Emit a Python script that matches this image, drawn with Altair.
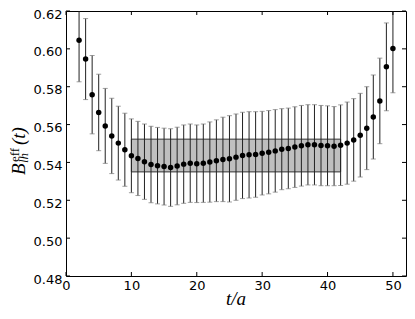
import altair as alt
import pandas as pd

t_vals = list(range(2, 51))
means = [0.6046, 0.5946, 0.5758, 0.5664, 0.5593, 0.5540, 0.5502, 0.5467, 0.5435, 0.5421,
         0.5404, 0.5389, 0.5383, 0.5378, 0.5373, 0.5381, 0.5391, 0.5396, 0.5393, 0.5396,
         0.5402, 0.5409, 0.5416, 0.5419, 0.5428, 0.5437, 0.5440, 0.5442, 0.5449, 0.5454,
         0.5461, 0.5470, 0.5474, 0.5481, 0.5488, 0.5493, 0.5493, 0.5489, 0.5488, 0.5486,
         0.5491, 0.5502, 0.5519, 0.5544, 0.5581, 0.5640, 0.5725, 0.5905, 0.6002]
errs = [0.0220, 0.0214, 0.0207, 0.0202, 0.0198, 0.0199, 0.0195, 0.0193, 0.0195, 0.0196,
        0.0199, 0.0202, 0.0202, 0.0203, 0.0205, 0.0205, 0.0207, 0.0207, 0.0205, 0.0207,
        0.0212, 0.0216, 0.0223, 0.0228, 0.0228, 0.0228, 0.0228, 0.0226, 0.0221, 0.0220,
        0.0218, 0.0214, 0.0213, 0.0213, 0.0213, 0.0212, 0.0212, 0.0212, 0.0211, 0.0209,
        0.0213, 0.0217, 0.0218, 0.0221, 0.0219, 0.0222, 0.0226, 0.0232, 0.0234]

band_t = [10, 42]
band_B = [0.5350, 0.5523]

x_ticks = [0, 10, 20, 30, 40, 50]
y_ticks = [0.48, 0.50, 0.52, 0.54, 0.56, 0.58, 0.60, 0.62]

W, H = 340, 265

df = pd.DataFrame({"t": t_vals, "B": means, "err": errs})
df["lo"] = df["B"] - df["err"]
df["hi"] = df["B"] + df["err"]

band_df = pd.DataFrame({"t": [band_t[0]], "t2": [band_t[1]], "B": [band_B[0]], "B2": [band_B[1]]})
xt_df = pd.DataFrame({"t": x_ticks})
yt_df = pd.DataFrame({"B": y_ticks})

xscale = alt.Scale(domain=[0, 52], nice=False, zero=False)
yscale = alt.Scale(domain=[0.48, 0.62], nice=False, zero=False)

xaxis = alt.Axis(values=x_ticks, grid=False, ticks=False, domain=False, title=None,
                 labelFont="DejaVu Sans", labelFontSize=13, labelColor="black",
                 labelPadding=3, labelFlush=False, labelOverlap=False)
yaxis = alt.Axis(values=y_ticks, format=".2f", grid=False, ticks=False, domain=False, title=None,
                 labelFont="DejaVu Sans", labelFontSize=13, labelColor="black",
                 labelPadding=4, labelOffset=3, labelFlush=False, labelOverlap=False)

X = alt.X("t:Q", scale=xscale, axis=xaxis)
Y = alt.Y("B:Q", scale=yscale, axis=yaxis)
Ylo = alt.Y("lo:Q", scale=yscale, axis=yaxis)
Yhi = alt.Y("hi:Q", scale=yscale, axis=yaxis)

band = alt.Chart(band_df).mark_rect(fill="#bfbfbf", stroke="#333333", strokeWidth=1).encode(
    x=X, x2="t2:Q", y=Y, y2="B2:Q")

bars = alt.Chart(df).mark_rule(color="#222222", strokeWidth=1, clip=True).encode(
    x=X, y=Ylo, y2="hi:Q")

caps_lo = alt.Chart(df).mark_tick(color="#777777", size=5, thickness=1, orient="horizontal", clip=True).encode(
    x=X, y=Ylo)
caps_hi = alt.Chart(df).mark_tick(color="#777777", size=5, thickness=1, orient="horizontal", clip=True).encode(
    x=X, y=Yhi)

points = alt.Chart(df).mark_point(filled=True, color="black", size=30, opacity=1).encode(x=X, y=Y)

tick_len = 4
xt_bot = alt.Chart(xt_df).mark_rule(color="black", strokeWidth=1).encode(
    x=X, y=alt.value(H), y2=alt.value(H - tick_len))
xt_top = alt.Chart(xt_df).mark_rule(color="black", strokeWidth=1).encode(
    x=X, y=alt.value(0), y2=alt.value(tick_len))
yt_left = alt.Chart(yt_df).mark_rule(color="black", strokeWidth=1).encode(
    y=Y, x=alt.value(0), x2=alt.value(tick_len))
yt_right = alt.Chart(yt_df).mark_rule(color="black", strokeWidth=1).encode(
    y=Y, x=alt.value(W), x2=alt.value(W - tick_len))

one = pd.DataFrame({"k": [0]})
serif = "Liberation Serif"

xtitle = alt.Chart(one).mark_text(font=serif, fontStyle="italic", fontSize=19, align="center",
                                  baseline="alphabetic", color="black").encode(
    x=alt.value(W / 2), y=alt.value(H + 29), text=alt.value("t/a"))

yB = alt.Chart(one).mark_text(font=serif, fontStyle="italic", fontSize=19, angle=270, align="left",
                              baseline="alphabetic", color="black").encode(
    x=alt.value(-41), y=alt.value(164), text=alt.value("B"))
yeff = alt.Chart(one).mark_text(font=serif, fontStyle="normal", fontSize=13, angle=270, align="left",
                                baseline="alphabetic", color="black").encode(
    x=alt.value(-47), y=alt.value(151), text=alt.value("eff"))
ylh = alt.Chart(one).mark_text(font=serif, fontStyle="italic", fontSize=13, angle=270, align="left",
                               baseline="alphabetic", color="black").encode(
    x=alt.value(-38), y=alt.value(152), text=alt.value("lh"))
yt = alt.Chart(one).mark_text(font=serif, fontStyle="italic", fontSize=19, angle=270, align="left",
                              baseline="alphabetic", color="black").encode(
    x=alt.value(-41), y=alt.value(134), text=alt.value("(t)"))

chart = alt.layer(band, bars, caps_lo, caps_hi, points, xt_bot, xt_top, yt_left, yt_right,
                  xtitle, yB, yeff, ylh, yt).properties(
    width=W, height=H,
    autosize=alt.AutoSizeParams(type="none"),
    padding={"left": 58, "top": 3, "right": 1, "bottom": 35},
    background="white",
).configure_view(stroke="black", strokeWidth=1)

chart.save("out.html", embed_options={"renderer": "svg", "actions": False})
